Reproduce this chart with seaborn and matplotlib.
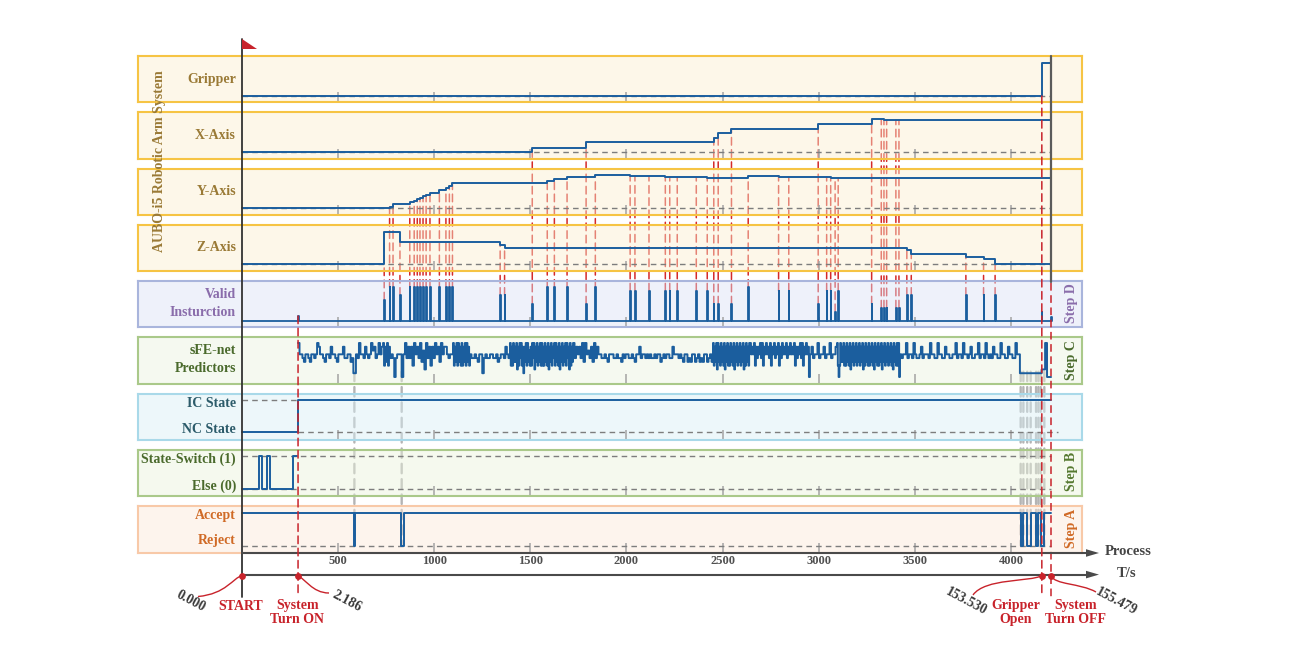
import numpy as np
import pandas as pd
import matplotlib
matplotlib.use("Agg")
import matplotlib.pyplot as plt
import seaborn as sns
from matplotlib.patches import ConnectionPatch, Polygon, PathPatch
from matplotlib.path import Path
from matplotlib.colors import to_rgb

# ---------------------------------------------------------------- data
T_ON, T_GRIP, T_END = 292, 4160, 4208

process_ticks = [500, 1000, 1500, 2000, 2500, 3000, 3500, 4000]

gripper_x = [0, T_GRIP]
gripper_v = [0, 1]

xaxis_x = [0, 1510, 1790, 2454, 2477, 2546, 2997, 3275, 3325, 3339, 3353, 3401, 3417]
xaxis_v = [0, 4.7, 10.0, 14.6, 19.0, 23.6, 28.6, 33.3, 33.0, 32.8, 32.5, 32.2, 31.8]

yaxis_x = [0, 768, 786, 873, 896, 912, 926, 942, 958, 978, 1027, 1061, 1079, 1095,
           1588, 1625, 1691, 1838, 2019, 2044, 2117, 2202, 2225, 2264, 2363, 2420,
           2633, 2791, 2844, 3041, 3062, 3085, 3101]
yaxis_v = [0, 1.6, 4.0, 6.0, 7.3, 9.0, 10.3, 12.0, 13.6, 15.6, 18.0, 20.0, 22.0, 25.3,
           27.3, 29.0, 31.3, 33.0, 32.3, 32.1, 32.0, 31.7, 31.5, 31.3, 31.0, 30.0,
           32.0, 31.8, 31.6, 31.3, 30.8, 30.6, 30.3]

zaxis_x = [0, 740, 822, 1343, 1366, 3458, 3481, 3765, 3857, 3917]
zaxis_v = [0, 32.6, 22.0, 19.3, 16.6, 14.0, 10.0, 7.6, 5.3, 0]

valid_x = [292, 740, 768, 786, 822, 873, 896, 912, 926, 942, 958, 978, 1027, 1061,
           1079, 1095, 1343, 1366, 1510, 1588, 1625, 1691, 1790, 1838, 2019, 2044,
           2117, 2202, 2225, 2264, 2363, 2420, 2454, 2477, 2546, 2633, 2791, 2844,
           2997, 3041, 3062, 3085, 3101, 3275, 3325, 3339, 3353, 3401, 3417, 3458,
           3481, 3765, 3857, 3917, 4160, 4208]
valid_h = [4.7, 20.7, 33.4, 33.4, 25.4, 33.4, 33.4, 33.4, 33.4, 33.4, 33.4, 33.4, 33.4, 33.4,
           33.4, 33.4, 25.4, 25.4, 16.7, 33.4, 33.4, 33.4, 16.7, 33.4, 29.7, 29.7,
           29.7, 29.7, 29.7, 29.7, 29.7, 29.7, 16.7, 16.7, 16.7, 33.4, 29.7, 29.7,
           16.7, 29.7, 29.7, 9.0, 29.7, 16.7, 12.7, 12.7, 12.7, 12.7, 12.7, 25.4,
           25.4, 25.4, 25.4, 25.4, 9.0, 4.0]

# sFE-net predictor output, one digit (0-9) per sample, grouped by time segment
sfe_bounds = [292, 391, 406, 573, 593, 734, 770, 822, 848, 1066, 1098, 1186, 1394,
              1722, 1862, 2278, 2450, 2642, 2954, 3095, 3422, 4046, 4159, 4177, 4187, 4208]
sfe_codes = [
    "9665466546656",
    "98",
    "665466586654666855664",
    "511",
    "659665865697856968",
    "9384938",
    "5650566",
    "606",
    "9585839685947295838596849688",
    "6566",
    "93849394839384939483",
    "65565466156556655645665865",
    "93839484928395938184939473839592849384939383948392849385939483928493849395829384",
    "958685949675849586",
    "65565466655655465665565466856656565565664565665586665",
    "6546645466456454664564",
    "93849294839483928493839483928493849384928394839",
    "968693858695938696859386958693859686958696869385869593869680",
    "685669566856695668",
    "93039484938394839284938493849384928394839384938294839384928493849384938294839390",
    "65669566596556856665966559665586655669566596656855669566596565866559665586655966",
    "1",
    "2",
    "9",
    "0",
]

ic_x = [0, T_ON]
ic_v = [0, 1]

switch_x = [0, 90, 106, 129, 146, 267]
switch_v = [0, 1, 0, 1, 0, 1]
switch_end = 287

accept_x = [0, 583, 588, 827, 841, 4050, 4064, 4084, 4102, 4130, 4142, 4154, 4173]
accept_v = [1, 0, 1, 0, 1, 0, 1, 0, 1, 0, 1, 0, 1]

reject_links_x = [585, 831, 4050, 4064, 4084, 4102, 4130, 4142, 4154, 4173]

marker_x = [0, T_ON, T_GRIP, T_END]
marker_time = ["0.000", "2.186", "153.530", "155.479"]
marker_name = ["START", "System\nTurn ON", "Gripper\nOpen", "System\nTurn OFF"]

# ---------------------------------------------------------------- style
sns.set_theme(style="white")
plt.rcParams["font.family"] = ["Liberation Serif", "DejaVu Serif"]
plt.rcParams["font.weight"] = "bold"

PW, PH = 1293, 647
X0_PX, PX_PER_UNIT = 241.9, 0.19229
PANEL_L, PANEL_R = 137.5, 1081.5
PANEL_TOP0, PANEL_STEP, PANEL_H = 56.0, 56.28, 46.3

BLUE = "#1b5e9e"
RED = "#c8232b"
LINK_RED = "#d42a2a"
DASH = (0, (4, 3))


def xd(px):
    return (px - X0_PX) / PX_PER_UNIT


def fx(px):
    return px / PW


def fy(py):
    return 1 - py / PH


def veil(hex_color, alpha=0.45):
    rgb = np.array(to_rgb(hex_color))
    base = np.clip(1 - (1 - rgb) / alpha, 0, 1)
    return (*base, alpha)


panels = [
    dict(fill="#fdf8ea", edge="#f6c444", base=96.0, unit=33.5),
    dict(fill="#fdf8ea", edge="#f6c444", base=152.3, unit=1.0),
    dict(fill="#fdf8ea", edge="#f6c444", base=208.4, unit=1.0),
    dict(fill="#fdf8ea", edge="#f6c444", base=264.5, unit=1.0),
    dict(fill="#eff2fa", edge="#a9b5dc", base=320.7, unit=1.0),
    dict(fill="#f6f9f0", edge="#aac98a", base=377.0, unit=3.78),
    dict(fill="#eef8fb", edge="#a9d9e9", base=432.0, unit=32.0),
    dict(fill="#f5f9ef", edge="#aac98a", base=489.0, unit=33.0),
    dict(fill="#fdf4ee", edge="#f8c9a8", base=545.5, unit=32.5),
]

fig = plt.figure(figsize=(PW / 100, PH / 100), dpi=100)
fig.patch.set_facecolor("white")

axes = []
for i, sp in enumerate(panels):
    top = PANEL_TOP0 + i * PANEL_STEP
    bot = top + PANEL_H
    ax = fig.add_axes([fx(PANEL_L), fy(bot), fx(PANEL_R) - fx(PANEL_L), PANEL_H / PH])
    ax.set_facecolor(veil(sp["fill"]))
    for s in ax.spines.values():
        s.set_color(sp["edge"])
        s.set_linewidth(1.5)
    sp["ylim"] = ((sp["base"] - bot) / sp["unit"], (sp["base"] - top) / sp["unit"])
    axes.append(ax)

ax_grip, ax_x, ax_y, ax_z, ax_valid, ax_sfe, ax_ic, ax_sw, ax_acc = axes


def step_frame(xs, vs, x_end):
    return pd.DataFrame({"t": list(xs) + [x_end], "v": list(vs) + [vs[-1]]})


def draw_steps(ax, df, lw=1.4):
    sns.lineplot(data=df, x="t", y="v", ax=ax, drawstyle="steps-post", color=BLUE,
                 lw=lw, estimator=None, sort=False, legend=False, zorder=3)


def dashed(ax, y, x0, x1):
    ax.plot([x0, x1], [y, y], color="#7d7d7d", lw=1.0, ls=DASH, zorder=2)


# baselines
for ax in (ax_grip, ax_x, ax_y, ax_z):
    dashed(ax, 0, 0, T_END)
dashed(ax_ic, 1, 0, T_ON)
dashed(ax_ic, 0, T_ON, T_END + 35)
dashed(ax_sw, 1, 0, T_END)
dashed(ax_sw, 0, 0, T_END)
dashed(ax_acc, 0, 0, T_END)

# arm system step traces
draw_steps(ax_grip, step_frame(gripper_x, gripper_v, T_END))
draw_steps(ax_x, step_frame(xaxis_x, xaxis_v, T_END))
draw_steps(ax_y, step_frame(yaxis_x, yaxis_v, T_END))
draw_steps(ax_z, step_frame(zaxis_x, zaxis_v, T_END))

# valid instruction pulses
PULSE_W = 3.5
vx, vv = [0], [0]
for s, h in zip(valid_x, valid_h):
    vx += [s, s + PULSE_W]
    vv += [h, 0]
draw_steps(ax_valid, pd.DataFrame({"t": vx, "v": vv}), lw=1.3)

# sFE-net predictor output
sx, sv = [], []
for a, b, code in zip(sfe_bounds[:-1], sfe_bounds[1:], sfe_codes):
    n = len(code)
    for j, ch in enumerate(code):
        sx.append(a + j * (b - a) / n)
        sv.append(int(ch))
draw_steps(ax_sfe, step_frame(sx, sv, T_END), lw=1.4)

draw_steps(ax_ic, step_frame(ic_x, ic_v, T_END))
draw_steps(ax_sw, step_frame(switch_x, switch_v, switch_end))
draw_steps(ax_acc, step_frame(accept_x, accept_v, T_END))

XL = (xd(PANEL_L), xd(PANEL_R))
for ax, sp in zip(axes, panels):
    ax.set_xlim(XL)
    ax.set_ylim(sp["ylim"])
    ax.set_xticks(process_ticks)
    ax.set_yticks([])
    ax.set(xlabel="", ylabel="")
    ax.tick_params(axis="x", bottom=True, direction="in", length=7.2, width=1.1,
                   color="#a3a3a3", labelbottom=False)
ax_acc.tick_params(axis="x", labelbottom=True, labelsize=9, labelcolor="#505050", pad=2)

# connectors between instructions and the axis that moved (behind the panels)
targets = [(ax_x, xaxis_x, xaxis_v), (ax_y, yaxis_x, yaxis_v), (ax_z, zaxis_x, zaxis_v)]
for s, h in zip(valid_x, valid_h):
    for tax, txs, tvs in targets:
        if s in txs:
            lvl = tvs[txs.index(s)]
            con = ConnectionPatch(xyA=(s, h), coordsA=ax_valid.transData,
                                  xyB=(s, lvl), coordsB=tax.transData,
                                  color=LINK_RED, lw=1.1, linestyle=(0, (5, 3)), zorder=-1)
            fig.add_artist(con)

for s in reject_links_x:
    con = ConnectionPatch(xyA=(s, 1.4), coordsA=ax_sfe.transData,
                          xyB=(s, 0), coordsB=ax_acc.transData,
                          color="#b4b4b4", lw=1.7, linestyle=(0, (4, 2.5)), zorder=-1)
    fig.add_artist(con)

# ---------------------------------------------------------------- overlay
ov = fig.add_axes([0, 0, 1, 1], facecolor="none")
ov.set_xlim(xd(0), xd(PW))
ov.set_ylim(PH, 0)
ov.axis("off")

# start pole and flag
ov.plot([0, 0], [39, 597], color="#333333", lw=1.3, zorder=4)
ov.add_patch(Polygon([(0, 39.3), (0, 49.3), (xd(257), 49.3)], closed=True,
                     facecolor=RED, edgecolor="none", zorder=5))

# time markers: vertical dashed guides
con = ConnectionPatch(xyA=(T_ON, 4.7), coordsA=ax_valid.transData,
                      xyB=(T_ON, 596), coordsB=ov.transData,
                      color=RED, lw=1.1, linestyle=(0, (5, 3)), zorder=5)
fig.add_artist(con)
con = ConnectionPatch(xyA=(T_GRIP, 0), coordsA=ax_grip.transData,
                      xyB=(T_GRIP, 597), coordsB=ov.transData,
                      color=RED, lw=1.1, linestyle=(0, (5, 3)), zorder=5)
fig.add_artist(con)
ov.plot([T_END, T_END], [56, 282], color="#5b5b5b", lw=1.6, zorder=4)
ov.plot([T_END, T_END], [283, 599], color=RED, lw=1.1, ls=(0, (5, 3)), zorder=4)

# process and time axes
for y_ax, label, lx in [(553.0, "Process", 1105), (574.6, "T/s", 1117)]:
    ov.plot([0, xd(1087)], [y_ax, y_ax], color="#4a4a4a", lw=1.5, zorder=4)
    ov.add_patch(Polygon([(xd(1086), y_ax - 3.8), (xd(1086), y_ax + 3.8), (xd(1099), y_ax)],
                         closed=True, facecolor="#4a4a4a", edgecolor="none", zorder=4))
    ov.text(xd(lx), y_ax - 1.5, label, ha="left", va="center", fontsize=10.5, color="#444444")

ov.scatter(marker_x, [575.6] * len(marker_x), s=24, color=RED, zorder=6, linewidths=0)

leaders = [
    [(241.7, 575.7), (233, 578), (226, 594), (198, 596.5)],
    [(297.3, 575.7), (305, 578), (312, 593), (329, 593)],
    [(1041.7, 575.7), (1030, 582), (985, 578), (973, 595)],
    [(1051, 575.7), (1055, 585), (1080, 583), (1096, 592)],
]
for pts in leaders:
    verts = [(xd(px), py) for px, py in pts]
    path = Path(verts, [Path.MOVETO, Path.CURVE4, Path.CURVE4, Path.CURVE4])
    ov.add_patch(PathPatch(path, facecolor="none", edgecolor=RED, lw=1.0, zorder=5))

time_pos = [(190.5, 601), (346.5, 601), (966, 601.7), (1116, 601)]
for (px, py), txt in zip(time_pos, marker_time):
    ov.text(xd(px), py, txt, rotation=-28, rotation_mode="anchor", ha="center",
            va="center", fontsize=10, color="#3a3a3a")

name_pos = [(241, 606.5), (297.5, 612.5), (1015.7, 612.3), (1075.5, 612.3)]
for (px, py), txt in zip(name_pos, marker_name):
    ov.text(xd(px), py, txt, ha="center", va="center", fontsize=10, color=RED,
            linespacing=1.15)

# ---------------------------------------------------------------- labels
GOLD = "#9a7a36"
PURPLE = "#8a6dab"
GREEN = "#4a6a2c"
TEAL = "#2c5b6a"
ORANGE = "#d06a26"

row_labels = [
    ("Gripper", 79.3, GOLD), ("X-Axis", 135.3, GOLD), ("Y-Axis", 191.7, GOLD),
    ("Z-Axis", 247.3, GOLD), ("Valid", 295.0, PURPLE), ("Insturction", 312.7, PURPLE),
    ("sFE-net", 351.0, GREEN), ("Predictors", 368.7, GREEN),
    ("IC State", 403.3, TEAL), ("NC State", 429.3, TEAL),
    ("State-Switch (1)", 459.3, GREEN), ("Else (0)", 486.0, GREEN),
    ("Accept", 515.7, ORANGE), ("Reject", 540.7, ORANGE),
]
for txt, py, col in row_labels:
    fig.text(fx(236), fy(py), txt, ha="right", va="center", fontsize=10, color=col)

fig.text(fx(160), fy(161.5), "AUBO-i5 Robotic Arm System", rotation=90,
         ha="center", va="center", fontsize=10, color=GOLD)

step_labels = [("Step D", 303.3, PURPLE), ("Step C", 360.0, GREEN),
               ("Step B", 471.0, "#55792f"), ("Step A", 528.3, ORANGE)]
for txt, py, col in step_labels:
    fig.text(fx(1071.5), fy(py), txt, rotation=90, ha="center", va="center",
             fontsize=10, color=col)

fig.savefig("out.png", dpi=100, facecolor="white")
